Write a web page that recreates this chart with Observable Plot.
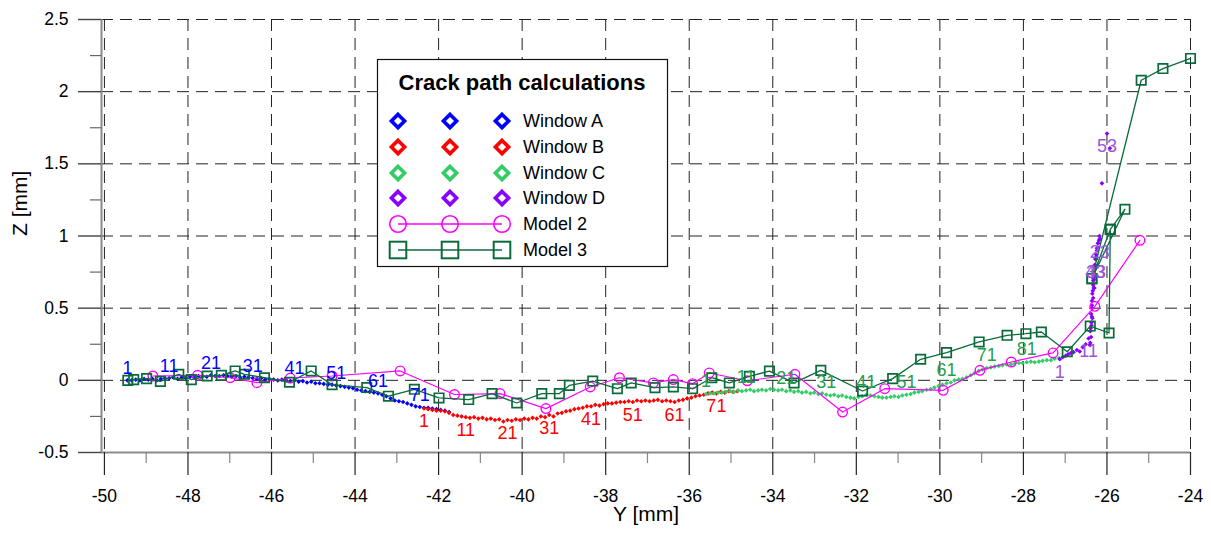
<!DOCTYPE html>
<html><head><meta charset="utf-8">
<script src="https://cdn.jsdelivr.net/npm/d3@7"></script>
<script src="https://cdn.jsdelivr.net/npm/@observablehq/plot@0.6"></script>
<style>
body{margin:0;background:#fff;font-family:"Liberation Sans",Arial,sans-serif;}
#chart{width:1211px;height:533px;}
</style></head><body><div id="chart"></div>
<script>
// ---------- tick values ----------
const xTicks = [-50,-48,-46,-44,-42,-40,-38,-36,-34,-32,-30,-28,-26,-24];
const xMinor = [-49,-47,-45,-43,-41,-39,-37,-35,-33,-31,-29,-27,-25];
const yTicks = [-0.5,0,0.5,1,1.5,2,2.5];
const yMinor = [-0.25,0.25,0.75,1.25,1.75,2.25];

// ---------- Window A (blue) ----------
const windowA_y = [-49.45,-49.35,-49.25,-49.15,-49.05,-48.95,-48.85,-48.75,-48.65,-48.55,
-48.45,-48.35,-48.25,-48.15,-48.05,-47.95,-47.85,-47.75,-47.65,-47.55,
-47.45,-47.35,-47.25,-47.15,-47.05,-46.95,-46.85,-46.75,-46.65,-46.55,
-46.45,-46.35,-46.25,-46.15,-46.05,-45.95,-45.85,-45.75,-45.65,-45.55,
-45.45,-45.35,-45.25,-45.15,-45.05,-44.95,-44.85,-44.75,-44.65,-44.55,
-44.45,-44.35,-44.25,-44.15,-44.05,-43.95,-43.85,-43.75,-43.65,-43.55,
-43.45,-43.35,-43.25,-43.15,-43.05,-42.95,-42.85,-42.75,-42.65,-42.55,
-42.45,-42.35,-42.25,-42.15,-42.05,-41.95,-41.85,-41.75];
const windowA_z = [0.00,0.00,0.005,0.00,0.01,0.005,0.01,0.00,0.01,0.015,
0.015,0.02,0.01,0.02,0.015,0.025,0.02,0.03,0.03,0.025,
0.035,0.03,0.03,0.035,0.03,0.025,0.03,0.02,0.025,0.02,
0.015,0.01,0.015,0.005,0.01,0.005,0.00,0.005,0.00,-0.005,
0.00,-0.01,-0.005,-0.015,-0.01,-0.02,-0.02,-0.025,-0.03,-0.03,
-0.035,-0.04,-0.045,-0.05,-0.055,-0.065,-0.07,-0.075,-0.08,-0.085,
-0.09,-0.10,-0.11,-0.125,-0.14,-0.145,-0.15,-0.16,-0.17,-0.18,
-0.185,-0.19,-0.19,-0.195,-0.20,-0.205,-0.21,-0.22];
const windowA_labels = ["1","11","21","31","41","51","61","71"];

// ---------- Window B (red) ----------
const windowB_y = [-42.35,-42.25,-42.15,-42.05,-41.95,-41.85,-41.75,-41.65,-41.55,-41.45,
-41.35,-41.25,-41.15,-41.05,-40.95,-40.85,-40.75,-40.65,-40.55,-40.45,
-40.35,-40.25,-40.15,-40.05,-39.95,-39.85,-39.75,-39.65,-39.55,-39.45,
-39.35,-39.25,-39.15,-39.05,-38.95,-38.85,-38.75,-38.65,-38.55,-38.45,
-38.35,-38.25,-38.15,-38.05,-37.95,-37.85,-37.75,-37.65,-37.55,-37.45,
-37.35,-37.25,-37.15,-37.05,-36.95,-36.85,-36.75,-36.65,-36.55,-36.45,
-36.35,-36.25,-36.15,-36.05,-35.95,-35.85,-35.75,-35.65,-35.55,-35.45,
-35.35,-35.25,-35.15,-35.05,-34.95,-34.85];
const windowB_z = [-0.195,-0.20,-0.205,-0.21,-0.21,-0.215,-0.225,-0.24,-0.245,-0.25,
-0.255,-0.26,-0.255,-0.265,-0.26,-0.27,-0.265,-0.275,-0.27,-0.285,
-0.275,-0.28,-0.27,-0.275,-0.265,-0.27,-0.26,-0.265,-0.25,-0.255,
-0.24,-0.25,-0.23,-0.225,-0.215,-0.21,-0.20,-0.195,-0.19,-0.18,
-0.18,-0.17,-0.175,-0.165,-0.16,-0.16,-0.155,-0.15,-0.15,-0.145,
-0.15,-0.14,-0.145,-0.14,-0.145,-0.14,-0.135,-0.145,-0.14,-0.145,
-0.15,-0.14,-0.135,-0.125,-0.12,-0.11,-0.105,-0.10,-0.09,-0.085,
-0.09,-0.08,-0.085,-0.075,-0.08,-0.075];
const windowB_labels = ["1","11","21","31","41","51","61","71"];

// ---------- Window C (green) ----------
const windowC_y = [-35.60,-35.50,-35.41,-35.31,-35.22,-35.12,-35.02,-34.93,-34.83,-34.74,
-34.64,-34.54,-34.45,-34.35,-34.26,-34.16,-34.06,-33.97,-33.87,-33.78,
-33.68,-33.58,-33.49,-33.39,-33.30,-33.20,-33.10,-33.01,-32.91,-32.82,
-32.72,-32.62,-32.53,-32.43,-32.34,-32.24,-32.14,-32.05,-31.95,-31.86,
-31.76,-31.66,-31.57,-31.47,-31.38,-31.28,-31.18,-31.09,-30.99,-30.90,
-30.80,-30.70,-30.61,-30.51,-30.42,-30.32,-30.22,-30.13,-30.03,-29.94,
-29.84,-29.74,-29.65,-29.55,-29.46,-29.36,-29.26,-29.17,-29.07,-28.98,
-28.88,-28.78,-28.69,-28.59,-28.50,-28.40,-28.30,-28.21,-28.11,-28.02,
-27.92,-27.82,-27.73,-27.63,-27.54,-27.44,-27.34,-27.25,-27.15];
const windowC_z = [-0.095,-0.09,-0.09,-0.085,-0.085,-0.08,-0.075,-0.08,-0.07,-0.075,
-0.07,-0.065,-0.075,-0.07,-0.065,-0.07,-0.06,-0.065,-0.07,-0.065,
-0.075,-0.07,-0.08,-0.075,-0.085,-0.08,-0.09,-0.085,-0.095,-0.09,
-0.10,-0.105,-0.10,-0.11,-0.105,-0.115,-0.12,-0.125,-0.115,-0.11,
-0.10,-0.105,-0.11,-0.115,-0.12,-0.12,-0.115,-0.11,-0.115,-0.105,
-0.10,-0.095,-0.085,-0.08,-0.075,-0.065,-0.06,-0.05,-0.04,-0.03,
-0.02,-0.015,0.00,0.005,0.01,0.02,0.035,0.05,0.065,0.075,
0.085,0.09,0.095,0.10,0.105,0.11,0.11,0.115,0.12,0.12,
0.125,0.13,0.125,0.13,0.135,0.14,0.14,0.15,0.155];
const windowC_labels = ["1","11","21","31","41","51","61","71","81"];

// ---------- Window D (purple) ----------
const windowD_y = [-27.13,-27.06,-26.99,-26.93,-26.86,-26.80,-26.72,-26.65,-26.58,-26.51,
-26.44,-26.41,-26.40,-26.38,-26.40,-26.37,-26.35,-26.38,-26.36,-26.33,
-26.30,-26.27,-26.17,-26.22,-26.24,-26.27,-26.29,-26.30,-26.33,-26.34,
-26.36,-26.35,-26.26,-26.30,-26.33,-26.32,-26.35,-26.37,-26.39,-26.36,
-26.31,-26.29,-26.28,-26.26,-26.22,-26.19,-26.21,-26.24,-26.18,-26.12,
-26.17,-25.93,-26.00];
const windowD_z = [0.146,0.16,0.17,0.18,0.19,0.195,0.21,0.20,0.23,0.25,
0.29,0.245,0.26,0.30,0.34,0.38,0.43,0.46,0.52,0.57,
0.64,0.78,0.98,0.95,0.915,0.85,0.80,0.74,0.69,0.62,
0.55,0.60,0.84,0.72,0.66,0.64,0.50,0.40,0.36,0.44,
0.70,0.78,0.84,0.87,0.92,0.97,0.95,0.90,1.00,1.365,
0.98,1.608,1.71];
const windowD_labels = ["1","11","23","33","43","53"];

// ---------- Model 2 (magenta circles) ----------
const model2_y = [-48.84,-47.77,-46.99,-46.35,-45.55,-44.55,-42.92,-41.62,-40.53,-39.43,-38.37,-37.67,-36.86,-36.38,-35.92,-35.52,-34.61,-33.47,-32.33,-31.32,-29.92,-29.04,-28.29,-27.29,-26.29,-25.21];
const model2_z = [0.03,0.035,0.018,-0.016,0.016,0.03,0.065,-0.098,-0.092,-0.196,-0.046,0.018,-0.018,0.005,-0.023,0.051,-0.003,0.042,-0.22,-0.058,-0.069,0.069,0.127,0.19,0.513,0.97];

// ---------- Model 3 (green squares) ----------
const model3_y = [-49.44,-49.30,-48.99,-48.66,-48.22,-47.92,-47.54,-47.20,-46.87,-46.65,-46.17,-45.57,-45.05,-44.55,-43.72,-43.20,-42.58,-41.99,-41.28,-40.72,-40.13,-39.53,-39.11,-38.87,-38.31,-37.72,-37.39,-36.82,-36.38,-35.92,-35.46,-35.04,-34.56,-34.08,-33.49,-32.85,-31.85,-31.13,-30.46,-29.84,-29.06,-28.39,-27.94,-27.57,-26.95,-26.40,-25.95,-25.92,-25.57,-26.36,-25.92,-26.36,-25.18,-24.66,-24.00];
const model3_z = [0.0,0.005,0.012,-0.007,0.042,0.005,0.03,0.035,0.065,0.042,0.018,-0.013,0.065,-0.03,-0.05,-0.11,-0.062,-0.122,-0.133,-0.092,-0.157,-0.092,-0.092,-0.035,-0.005,-0.058,-0.018,-0.051,-0.046,-0.058,0.018,-0.018,0.028,0.064,-0.018,0.069,-0.074,0.012,0.146,0.192,0.266,0.312,0.323,0.335,0.198,0.376,0.328,1.046,1.185,0.705,1.046,0.705,2.079,2.16,2.23];

// ---------- legend ----------
const legendTitle = "Crack path calculations";
const legendNames = ["Window A","Window B","Window C","Window D","Model 2","Model 3"];

// ---------- styles ----------
const windows = [
  {ys: windowA_y, zs: windowA_z, labels: windowA_labels, dot: "#0000ff", text: "#0000ff", dy: -12},
  {ys: windowB_y, zs: windowB_z, labels: windowB_labels, dot: "#ff0000", text: "#ff0000", dy: 13},
  {ys: windowC_y, zs: windowC_z, labels: windowC_labels, dot: "#33cc66", text: "#23a04c", dy: -13},
  {ys: windowD_y, zs: windowD_z, labels: windowD_labels, dot: "#8800ff", text: "#9b55d6", dy: 13}
];
const M2 = "#ff00ff", M3 = "#0a6b3a";
const gridStyle = {stroke: "#222", strokeWidth: 1, strokeDasharray: "12,7"};
const axisGray = "#8a8a8a";

const marks = [
  Plot.ruleX(xTicks, gridStyle),
  Plot.ruleY(yTicks, gridStyle),
  Plot.ruleX([-50.07], {stroke: axisGray, strokeWidth: 2}),
  Plot.ruleY([-0.5], {stroke: axisGray, strokeWidth: 2}),
  Plot.axisX(xTicks, {tickSize: 23, tickPadding: 14, tickFormat: d => String(d), stroke: "#222", strokeWidth: 1.2, label: null, fontSize: 17.5}),
  Plot.axisX(xMinor, {tickSize: 11, tickFormat: () => "", stroke: "#888", strokeWidth: 1.2, label: null}),
  Plot.axisY(yTicks, {tickSize: 23, tickPadding: 10, tickFormat: d => String(d), stroke: "#444", strokeWidth: 1.4, label: null, fontSize: 17.5}),
  Plot.axisY(yMinor, {tickSize: 11, tickFormat: () => "", stroke: "#666", strokeWidth: 1.2, label: null})
];

for (const w of windows) {
  const pts = w.ys.map((y, i) => ({y, z: w.zs[i]}));
  marks.push(Plot.dot(pts, {x: "y", y: "z", symbol: "diamond2", r: 2.1, fill: w.dot}));
}
const m2 = model2_y.map((y, i) => ({y, z: model2_z[i]}));
const m3 = model3_y.map((y, i) => ({y, z: model3_z[i]}));
marks.push(
  Plot.line(m2, {x: "y", y: "z", stroke: M2, strokeWidth: 1.2}),
  Plot.dot(m2, {x: "y", y: "z", r: 4.8, stroke: M2, strokeWidth: 1.4, fill: "none"}),
  Plot.line(m3, {x: "y", y: "z", stroke: M3, strokeWidth: 1.3, curve: "linear"}),
  Plot.dot(m3, {x: "y", y: "z", symbol: "square", r: 5.3, stroke: M3, strokeWidth: 1.7, fill: "none"})
);
for (const w of windows) {
  const lab = w.labels.map(t => ({t, y: w.ys[+t - 1], z: w.zs[+t - 1]}));
  marks.push(Plot.text(lab, {x: "y", y: "z", text: "t", fill: w.text, dy: w.dy, fontSize: 18}));
}
marks.push(
  Plot.text(["Y [mm]"], {frameAnchor: "bottom", dy: 68, fontSize: 21, fill: "#000"}),
  Plot.text(["Z [mm]"], {frameAnchor: "left", dx: -81, rotate: -90, fontSize: 21, fill: "#000"})
);

const svg = Plot.plot({
  width: 1211, height: 533,
  marginLeft: 101, marginRight: 21, marginTop: 19, marginBottom: 81,
  x: {domain: [-50.07, -24]},
  y: {domain: [-0.5, 2.5]},
  style: {fontFamily: "'Liberation Sans', Arial, sans-serif", fontSize: "17px", background: "#fff", color: "#000", overflow: "visible"},
  marks
});
document.getElementById("chart").appendChild(svg);

// ---------- legend box ----------
const g = d3.select(svg).append("g").attr("text-anchor", "start");
g.append("rect").attr("x", 377.5).attr("y", 59.5).attr("width", 290).attr("height", 207)
  .attr("fill", "#fff").attr("stroke", "#111").attr("stroke-width", 1.2);
g.append("text").attr("x", 522).attr("y", 90).attr("text-anchor", "middle")
  .attr("font-weight", "bold").attr("font-size", 22).attr("fill", "#000").text(legendTitle);
const rowY = [121, 147, 173, 198, 224, 250];
const mx = [398, 450, 502];
const legendColors = ["#0000ff", "#ff0000", "#33cc66", "#8800ff", M2, M3];
legendNames.forEach((name, i) => {
  const y = rowY[i], c = legendColors[i];
  if (i >= 4) {
    g.append("line").attr("x1", mx[0]).attr("x2", mx[2]).attr("y1", y).attr("y2", y)
      .attr("stroke", c).attr("stroke-width", 1.5);
  }
  mx.forEach(x => {
    if (i < 4) {
      const h = 6.6;
      g.append("path").attr("d", `M${x},${y - h}L${x + h},${y}L${x},${y + h}L${x - h},${y}Z`)
        .attr("fill", "#fff").attr("stroke", c).attr("stroke-width", 3.6);
    } else if (i === 4) {
      g.append("circle").attr("cx", x).attr("cy", y).attr("r", 8.3)
        .attr("fill", "none").attr("stroke", c).attr("stroke-width", 1.6);
    } else {
      g.append("rect").attr("x", x - 8.3).attr("y", y - 8.3).attr("width", 16.6).attr("height", 16.6)
        .attr("fill", "none").attr("stroke", c).attr("stroke-width", 2);
    }
  });
  g.append("text").attr("x", 523).attr("y", y).attr("dy", "0.36em").attr("font-size", 18)
    .attr("text-anchor", "start").attr("fill", "#000").text(name);
});
</script></body></html>
